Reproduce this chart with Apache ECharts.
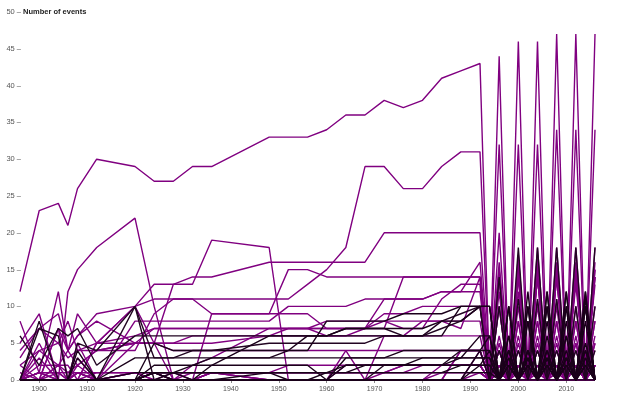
<!DOCTYPE html>
<html><head><meta charset="utf-8">
<script src="https://cdn.jsdelivr.net/npm/echarts@6/dist/echarts.min.js"></script>
<style>html,body{margin:0;padding:0;background:#fff}#c{width:640px;height:400px}</style>
</head><body><div id="c"></div>
<script>
// Years (Summer + Winter Games share a year before 1994)
const years = [1896,1900,1904,1906,1908,1912,1920,1924,1928,1932,1936,1948,1952,1956,1960,1964,1968,1972,1976,1980,1984,1988,1992,1994,1996,1998,2000,2002,2004,2006,2008,2010,2012,2014,2016];
const xTicks = [1900,1910,1920,1930,1940,1950,1960,1970,1980,1990,2000,2010];
const yTitle = 'Number of events';

// Summer sports: number of events per year
const athletics     = [12,23,24,21,26,30,29,27,27,29,29,33,33,33,34,36,36,38,37,38,41,42,43, 0,44,0,46,0,46,0,47,0,47,0,47];
const swimming      = [4,7,9,4,6,9,10,11,11,11,11,11,11,13,15,18,29,29,26,26,29,31,31, 0,32,0,32,0,32,0,34,0,34,0,34];
const wrestling     = [1,0,7,4,9,5,10,13,13,14,14,16,16,16,16,16,16,20,20,20,20,20,20, 0,20,0,16,0,18,0,18,0,18,0,18];
const shooting      = [5,9,0,12,15,18,22,10,0,2,3,7,7,7,6,6,7,8,7,7,11,13,13, 0,15,0,17,0,17,0,15,0,15,0,15];
const gymnastics    = [8,1,12,4,2,4,4,9,11,11,9,9,15,15,14,14,14,14,14,14,14,14,14, 0,14,0,14,0,14,0,14,0,14,0,14];
const cycling       = [6,2,7,6,7,2,6,6,6,6,6,6,6,6,6,7,7,7,6,6,8,9,10, 0,14,0,18,0,18,0,18,0,18,0,18];
const fencing       = [3,7,5,8,4,5,6,7,7,7,7,7,7,7,8,8,8,8,8,8,8,8,8, 0,10,0,10,0,10,0,10,0,10,0,10];
const rowing        = [0,4,5,3,4,4,5,7,7,7,7,7,7,7,7,7,7,7,14,14,14,14,14, 0,14,0,14,0,14,0,14,0,14,0,14];
const boxing        = [0,0,7,0,5,0,8,8,8,8,8,8,10,10,10,10,11,11,11,11,12,12,12, 0,12,0,12,0,11,0,11,0,13,0,13];
const weightlifting = [2,0,2,2,0,0,5,5,5,5,5,6,7,7,7,7,7,9,9,10,10,10,10, 0,10,0,15,0,15,0,15,0,15,0,15];
const sailing       = [0,8,0,0,5,4,10,3,3,4,4,5,5,5,5,5,5,6,6,6,7,8,10, 0,10,0,11,0,11,0,11,0,10,0,10];
const equestrian    = [0,5,0,0,0,5,10,5,5,6,6,6,6,6,6,6,6,6,6,6,6,6,6, 0,6,0,6,0,6,0,6,0,6,0,6];
const tennis        = [2,4,2,4,6,8,5,5,0,0,0,0,0,0,0,0,0,0,0,0,0,4,4, 0,4,0,4,0,4,0,4,0,5,0,5];
const football      = [0,1,1,1,1,1,1,1,1,0,1,1,1,1,1,1,1,1,1,1,1,1,1, 0,2,0,2,0,2,0,2,0,2,0,2];
const waterPolo     = [0,1,1,0,1,1,1,1,1,1,1,1,1,1,1,1,1,1,1,1,1,1,1, 0,1,0,2,0,2,0,2,0,2,0,2];
const hockey        = [0,0,0,0,1,0,1,0,1,1,1,1,1,1,1,1,1,1,1,2,2,2,2, 0,2,0,2,0,2,0,2,0,2,0,2];
const diving        = [0,0,2,1,2,4,5,5,4,4,4,4,4,4,4,4,4,4,4,4,4,4,4, 0,4,0,8,0,8,0,8,0,8,0,8];
const canoeing      = [0,0,0,0,0,0,0,0,0,0,9,9,9,9,7,7,7,11,11,11,12,12,16, 0,16,0,16,0,16,0,16,0,16,0,16];
const basketball    = [0,0,0,0,0,0,0,0,0,0,1,1,1,1,1,1,1,1,2,2,2,2,2, 0,2,0,2,0,2,0,2,0,2,0,2];
const pentathlon    = [0,0,0,0,0,1,1,1,1,1,1,1,2,2,2,2,2,2,2,2,2,2,2, 0,1,0,2,0,2,0,2,0,2,0,2];
const judo          = [0,0,0,0,0,0,0,0,0,0,0,0,0,0,0,4,0,6,6,8,8,7,14, 0,14,0,14,0,14,0,14,0,14,0,14];
const volleyball    = [0,0,0,0,0,0,0,0,0,0,0,0,0,0,0,2,2,2,2,2,2,2,2, 0,2,0,2,0,2,0,2,0,2,0,2];
const handball      = [0,0,0,0,0,0,0,0,0,0,1,0,0,0,0,0,0,1,2,2,2,2,2, 0,2,0,2,0,2,0,2,0,2,0,2];
const archery       = [0,7,6,0,3,0,10,0,0,0,0,0,0,0,0,0,0,2,2,2,2,4,4, 0,4,0,4,0,4,0,4,0,4,0,4];
const artComp       = [0,0,0,0,0,5,5,5,13,13,19,18,0,0,0,0,0,0,0,0,0,0,0, 0,0,0,0,0,0,0,0,0,0,0,0];
const tableTennis   = [0,0,0,0,0,0,0,0,0,0,0,0,0,0,0,0,0,0,0,0,0,4,4, 0,4,0,4,0,4,0,4,0,4,0,4];
const badminton     = [0,0,0,0,0,0,0,0,0,0,0,0,0,0,0,0,0,0,0,0,0,0,4, 0,5,0,5,0,5,0,5,0,5,0,5];
const baseball      = [0,0,0,0,0,0,0,0,0,0,0,0,0,0,0,0,0,0,0,0,0,0,1, 0,1,0,1,0,1,0,1,0,0,0,0];
const softball      = [0,0,0,0,0,0,0,0,0,0,0,0,0,0,0,0,0,0,0,0,0,0,0, 0,1,0,1,0,1,0,1,0,0,0,0];
const taekwondo     = [0,0,0,0,0,0,0,0,0,0,0,0,0,0,0,0,0,0,0,0,0,0,0, 0,0,0,8,0,8,0,8,0,8,0,8];
const triathlon     = [0,0,0,0,0,0,0,0,0,0,0,0,0,0,0,0,0,0,0,0,0,0,0, 0,0,0,2,0,2,0,2,0,2,0,2];
const beachVolley   = [0,0,0,0,0,0,0,0,0,0,0,0,0,0,0,0,0,0,0,0,0,0,0, 0,2,0,2,0,2,0,2,0,2,0,2];
const synchroSwim   = [0,0,0,0,0,0,0,0,0,0,0,0,0,0,0,0,0,0,0,0,2,2,2, 0,1,0,2,0,2,0,2,0,2,0,2];
const rhythmicGym   = [0,0,0,0,0,0,0,0,0,0,0,0,0,0,0,0,0,0,0,0,1,1,1, 0,2,0,2,0,2,0,2,0,2,0,2];
const trampolining  = [0,0,0,0,0,0,0,0,0,0,0,0,0,0,0,0,0,0,0,0,0,0,0, 0,0,0,2,0,2,0,2,0,2,0,2];
const golf          = [0,2,2,0,0,0,0,0,0,0,0,0,0,0,0,0,0,0,0,0,0,0,0, 0,0,0,0,0,0,0,0,0,0,0,2];
const rugby         = [0,1,0,0,1,0,1,1,0,0,0,0,0,0,0,0,0,0,0,0,0,0,0, 0,0,0,0,0,0,0,0,0,0,0,0];
const rugbySevens   = [0,0,0,0,0,0,0,0,0,0,0,0,0,0,0,0,0,0,0,0,0,0,0, 0,0,0,0,0,0,0,0,0,0,0,2];
const tugOfWar      = [0,1,1,1,1,1,1,0,0,0,0,0,0,0,0,0,0,0,0,0,0,0,0, 0,0,0,0,0,0,0,0,0,0,0,0];
const polo          = [0,1,0,0,1,0,1,1,0,0,1,0,0,0,0,0,0,0,0,0,0,0,0, 0,0,0,0,0,0,0,0,0,0,0,0];
const croquet       = [0,3,0,0,0,0,0,0,0,0,0,0,0,0,0,0,0,0,0,0,0,0,0, 0,0,0,0,0,0,0,0,0,0,0,0];
const motorboating  = [0,0,0,0,3,0,0,0,0,0,0,0,0,0,0,0,0,0,0,0,0,0,0, 0,0,0,0,0,0,0,0,0,0,0,0];
const racquets      = [0,0,0,0,2,0,0,0,0,0,0,0,0,0,0,0,0,0,0,0,0,0,0, 0,0,0,0,0,0,0,0,0,0,0,0];
const lacrosse      = [0,0,1,0,1,0,0,0,0,0,0,0,0,0,0,0,0,0,0,0,0,0,0, 0,0,0,0,0,0,0,0,0,0,0,0];
const alpinism      = [0,0,0,0,0,0,0,1,0,1,1,0,0,0,0,0,0,0,0,0,0,0,0, 0,0,0,0,0,0,0,0,0,0,0,0];

// Winter sports
const figureSkating = [0,0,0,0,4,0,3,3,3,3,3,3,3,3,3,3,3,3,4,4,4,4,4, 4,0,4,0,4,0,4,0,4,0,5,0];
const iceHockey     = [0,0,0,0,0,0,1,1,1,1,1,1,1,1,1,1,1,1,1,1,1,1,1, 1,0,2,0,2,0,2,0,2,0,2,0];
const speedSkating  = [0,0,0,0,0,0,0,5,4,4,4,4,4,4,8,8,8,8,9,9,9,10,10, 10,0,10,0,10,0,12,0,12,0,12,0];
const crossCountry  = [0,0,0,0,0,0,0,2,2,2,3,3,4,6,6,7,7,7,7,7,8,8,10, 10,0,10,0,12,0,12,0,12,0,12,0];
const skiJumping    = [0,0,0,0,0,0,0,1,1,1,1,1,1,1,1,2,2,2,2,2,2,3,3, 3,0,3,0,3,0,3,0,3,0,4,0];
const nordicComb    = [0,0,0,0,0,0,0,1,1,1,1,1,1,1,1,1,1,1,1,1,1,2,2, 2,0,2,0,3,0,3,0,3,0,3,0];
const bobsleigh     = [0,0,0,0,0,0,0,1,1,2,2,2,2,2,0,2,2,2,2,2,2,2,2, 2,0,2,0,3,0,3,0,3,0,3,0];
const alpineSkiing  = [0,0,0,0,0,0,0,0,0,0,2,6,6,6,6,6,6,6,6,6,6,10,10, 10,0,10,0,10,0,10,0,10,0,10,0];
const biathlon      = [0,0,0,0,0,0,0,0,0,0,0,0,0,0,1,1,2,2,2,3,3,3,6, 6,0,6,0,8,0,10,0,10,0,11,0];
const luge          = [0,0,0,0,0,0,0,0,0,0,0,0,0,0,0,3,3,3,3,3,3,3,3, 3,0,3,0,3,0,3,0,3,0,4,0];
const curling       = [0,0,0,0,0,0,0,1,0,0,0,0,0,0,0,0,0,0,0,0,0,0,0, 0,0,2,0,2,0,2,0,2,0,2,0];
const skeleton      = [0,0,0,0,0,0,0,0,1,0,0,1,0,0,0,0,0,0,0,0,0,0,0, 0,0,0,0,2,0,2,0,2,0,2,0];
const skiPatrol     = [0,0,0,0,0,0,0,1,0,0,0,0,0,0,0,0,0,0,0,0,0,0,0, 0,0,0,0,0,0,0,0,0,0,0,0];
const freestyle     = [0,0,0,0,0,0,0,0,0,0,0,0,0,0,0,0,0,0,0,0,0,0,2, 4,0,4,0,4,0,4,0,6,0,10,0];
const shortTrack    = [0,0,0,0,0,0,0,0,0,0,0,0,0,0,0,0,0,0,0,0,0,0,4, 6,0,6,0,8,0,8,0,8,0,8,0];
const snowboarding  = [0,0,0,0,0,0,0,0,0,0,0,0,0,0,0,0,0,0,0,0,0,0,0, 0,0,4,0,4,0,6,0,6,0,10,0];

const purpleSports = [
  ['Athletics', athletics], ['Swimming', swimming], ['Wrestling', wrestling], ['Shooting', shooting],
  ['Gymnastics', gymnastics], ['Fencing', fencing], ['Rowing', rowing],
  ['Boxing', boxing], ['Weightlifting', weightlifting], ['Equestrianism', equestrian],
  ['Tennis', tennis], ['Football', football], ['Water Polo', waterPolo], ['Hockey', hockey],
  ['Diving', diving], ['Canoeing', canoeing], ['Basketball', basketball], ['Modern Pentathlon', pentathlon],
  ['Judo', judo], ['Volleyball', volleyball], ['Handball', handball], ['Art Competitions', artComp],
  ['Table Tennis', tableTennis], ['Badminton', badminton], ['Baseball', baseball], ['Softball', softball],
  ['Taekwondo', taekwondo], ['Triathlon', triathlon], ['Beach Volleyball', beachVolley],
  ['Synchronized Swimming', synchroSwim], ['Rhythmic Gymnastics', rhythmicGym], ['Trampolining', trampolining],
  ['Golf', golf], ['Rugby', rugby], ['Rugby Sevens', rugbySevens], ['Tug-Of-War', tugOfWar], ['Polo', polo],
  ['Croquet', croquet], ['Motorboating', motorboating], ['Racquets', racquets], ['Lacrosse', lacrosse],
  ['Alpinism', alpinism]
];
const darkSports = [['Archery', archery], ['Cycling', cycling], ['Sailing', sailing]];
const winterSports = [
  ['Figure Skating', figureSkating], ['Ice Hockey', iceHockey], ['Speed Skating', speedSkating],
  ['Cross Country Skiing', crossCountry], ['Ski Jumping', skiJumping], ['Nordic Combined', nordicComb],
  ['Bobsleigh', bobsleigh], ['Alpine Skiing', alpineSkiing], ['Biathlon', biathlon], ['Luge', luge],
  ['Curling', curling], ['Skeleton', skeleton], ['Military Ski Patrol', skiPatrol],
  ['Freestyle Skiing', freestyle], ['Short Track Speed Skating', shortTrack], ['Snowboarding', snowboarding]
];

function mk(list, color) {
  return list.map(([name, vals]) => ({
    name, type: 'line', showSymbol: false, symbol: 'none', silent: true,
    data: years.map((y, i) => [y, vals[i]]),
    lineStyle: { width: 1.4, color: color }, itemStyle: { color: color }
  }));
}

const FONT = 'Liberation Sans, Arial, sans-serif';
const chart = echarts.init(document.getElementById('c'), null, { renderer: 'canvas' });
chart.setOption({
  animation: false,
  backgroundColor: '#fff',
  grid: { left: 20, right: 45, top: 12, bottom: 20 },
  xAxis: {
    type: 'value', min: 1896, max: 2016,
    splitLine: { show: false },
    axisLine: { show: false },
    axisTick: { show: true, length: 3, lineStyle: { color: '#888' }, customValues: xTicks },
    axisLabel: { customValues: xTicks, formatter: v => String(v), fontSize: 7, color: '#555', margin: 6,
                 fontFamily: FONT }
  },
  yAxis: {
    type: 'value', min: 0, max: 50, interval: 5,
    splitLine: { show: false }, axisLine: { show: false }, axisTick: { show: false },
    axisLabel: { formatter: v => v + ' \u2013', fontSize: 7.5, color: '#555', margin: -1, fontFamily: FONT }
  },
  graphic: [{
    type: 'text', left: 23, top: 8,
    style: { text: yTitle, fontSize: 7.5, fontWeight: 'bold', fill: '#222', fontFamily: FONT }
  }],
  series: [].concat(
    mk(purpleSports, '#800080'),
    mk(darkSports, '#220522'),
    mk(winterSports, '#1a001a')
  )
});
</script></body></html>
